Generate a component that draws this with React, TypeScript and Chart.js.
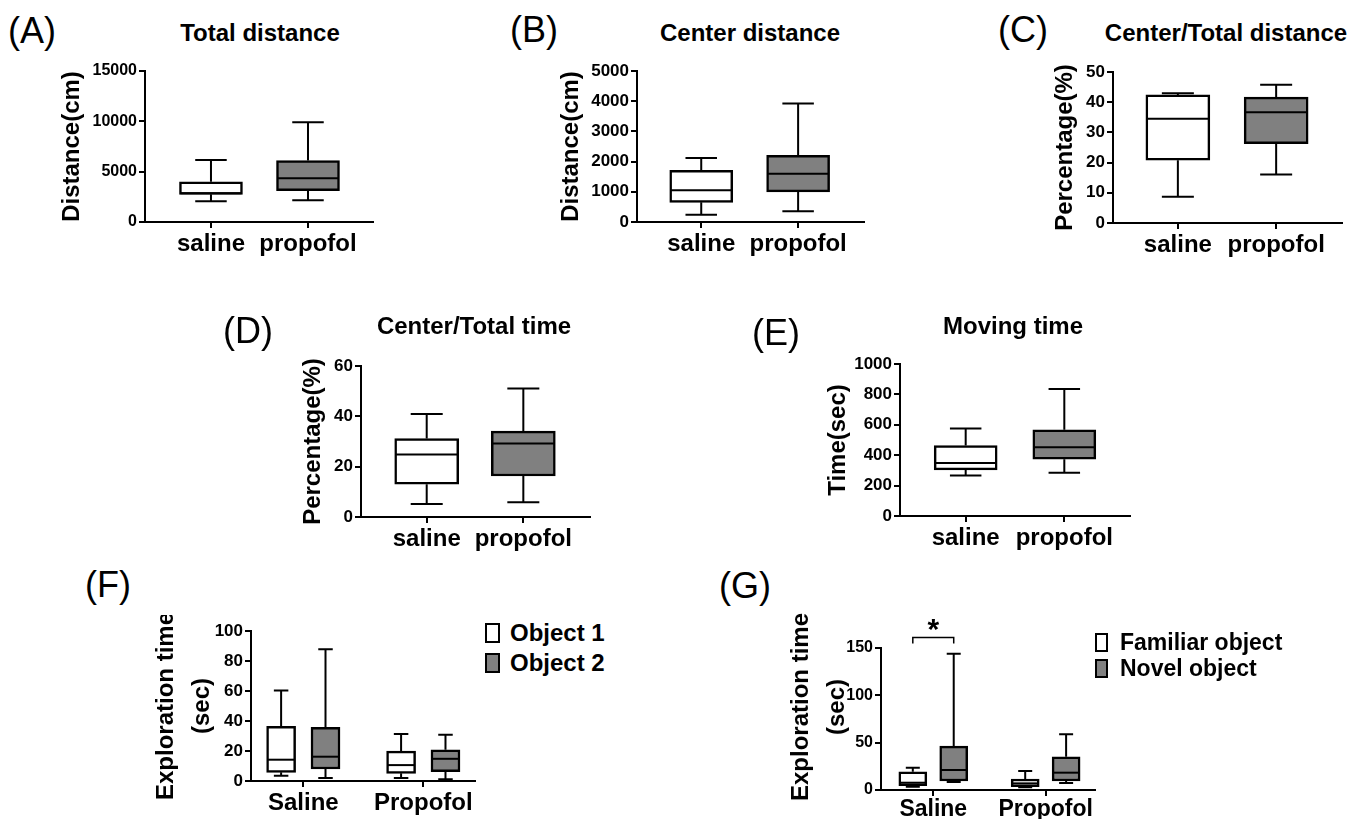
import React, { useEffect, useRef } from 'react';
import { Chart, registerables } from 'chart.js';

Chart.register(...registerables);

const FONT = '"Liberation Sans", Arial, Helvetica, sans-serif';
const WHITE = '#ffffff';
const GREY = '#808080';

// ---------- DATA ----------
const groups = ['saline', 'propofol'];
const groupsCap = ['Saline', 'Propofol'];

// (A) Total distance (cm)
const totalMin = [2050, 2150];
const totalQ1 = [2750, 3100];
const totalMed = [2850, 4350];
const totalQ3 = [4000, 6100];
const totalMax = [6150, 9900];

// (B) Center distance (cm)
const centerMin = [240, 360];
const centerQ1 = [650, 1000];
const centerMed = [1050, 1600];
const centerQ3 = [1710, 2210];
const centerMax = [2120, 3920];

// (C) Center/Total distance (%)
const ratioDistMin = [8.7, 16.1];
const ratioDistQ1 = [20.8, 26.3];
const ratioDistMed = [34.5, 36.7];
const ratioDistQ3 = [42.4, 41.7];
const ratioDistMax = [43.0, 45.8];

// (D) Center/Total time (%)
const ratioTimeMin = [5.2, 5.9];
const ratioTimeQ1 = [13.0, 16.3];
const ratioTimeMed = [24.8, 29.2];
const ratioTimeQ3 = [31.2, 34.1];
const ratioTimeMax = [40.9, 51.1];

// (E) Moving time (sec)
const movingMin = [266, 285];
const movingQ1 = [303, 374];
const movingMed = [348, 452];
const movingQ3 = [463, 567];
const movingMax = [575, 835];

// (F) Exploration time, Object 1 / Object 2 (sec)
const obj1Min = [3.5, 2.0];
const obj1Q1 = [5.8, 5.1];
const obj1Med = [14.2, 10.6];
const obj1Q3 = [36.4, 19.9];
const obj1Max = [60.3, 31.3];
const obj2Min = [2.0, 1.1];
const obj2Q1 = [8.0, 6.2];
const obj2Med = [16.2, 14.8];
const obj2Q3 = [35.7, 20.8];
const obj2Max = [87.8, 30.8];

// (G) Exploration time, Familiar / Novel object (sec)
const famMin = [3.5, 2.8];
const famQ1 = [4.6, 3.5];
const famMed = [7.7, 7.0];
const famQ3 = [19.3, 11.6];
const famMax = [23.5, 20.0];
const novMin = [8.4, 7.4];
const novQ1 = [9.5, 9.5];
const novMed = [21.1, 18.3];
const novQ3 = [46.4, 35.1];
const novMax = [144, 59.0];

// significance marker in (G)
const sigCategory = 0;
const sigLevel = 161;
const sigLabel = '*';

// ---------- TYPES ----------
type Series = {
  label: string;
  fill: string | string[];
  offset: number;
  min: number[];
  q1: number[];
  med: number[];
  q3: number[];
  max: number[];
};

type Spec = {
  left: number; top: number; width: number; height: number;
  axisX: number; chartTop: number; chartRight: number; chartBottom: number;
  xMin: number; xMax: number;
  categories: string[];
  yMax: number; yStep: number;
  yTitle: string | string[] | null;
  titleCenter: number; titleLH: number;
  tickSize: number; labelSize: number; labelPad: number;
  barWidth: number;
  series: Series[];
  sig?: boolean;
};

function single(min: number[], q1: number[], med: number[], q3: number[], max: number[]): Series[] {
  return [{ label: 'box', fill: [WHITE, GREY], offset: 0, min, q1, med, q3, max }];
}

const specs: Spec[] = [
  {
    left: 40, top: 55, width: 345, height: 215,
    axisX: 145, chartTop: 71, chartRight: 373, chartBottom: 222,
    xMin: -0.68, xMax: 1.67, categories: groups,
    yMax: 15000, yStep: 5000, yTitle: 'Distance(cm)', titleCenter: 72, titleLH: 1.2,
    tickSize: 16, labelSize: 24, labelPad: 2, barWidth: 63,
    series: single(totalMin, totalQ1, totalMed, totalQ3, totalMax),
  },
  {
    left: 530, top: 55, width: 350, height: 215,
    axisX: 637, chartTop: 71, chartRight: 864, chartBottom: 222,
    xMin: -0.663, xMax: 1.68, categories: groups,
    yMax: 5000, yStep: 1000, yTitle: 'Distance(cm)', titleCenter: 571.7, titleLH: 1.2,
    tickSize: 17, labelSize: 24, labelPad: 2, barWidth: 63,
    series: single(centerMin, centerQ1, centerMed, centerQ3, centerMax),
  },
  {
    left: 1020, top: 55, width: 335, height: 215,
    axisX: 1113, chartTop: 72, chartRight: 1342, chartBottom: 223,
    xMin: -0.66, xMax: 1.67, categories: groups,
    yMax: 50, yStep: 10, yTitle: 'Percentage(%)', titleCenter: 1065, titleLH: 1.2,
    tickSize: 17, labelSize: 24, labelPad: 2, barWidth: 64,
    series: single(ratioDistMin, ratioDistQ1, ratioDistMed, ratioDistQ3, ratioDistMax),
  },
  {
    left: 270, top: 350, width: 335, height: 215,
    axisX: 361, chartTop: 366, chartRight: 590, chartBottom: 517,
    xMin: -0.68, xMax: 1.69, categories: groups,
    yMax: 60, yStep: 20, yTitle: 'Percentage(%)', titleCenter: 313.3, titleLH: 1.2,
    tickSize: 17, labelSize: 24, labelPad: 2, barWidth: 64,
    series: single(ratioTimeMin, ratioTimeQ1, ratioTimeMed, ratioTimeQ3, ratioTimeMax),
  },
  {
    left: 790, top: 350, width: 355, height: 215,
    axisX: 900, chartTop: 364, chartRight: 1130, chartBottom: 516,
    xMin: -0.666, xMax: 1.666, categories: groups,
    yMax: 1000, yStep: 200, yTitle: 'Time(sec)', titleCenter: 838.3, titleLH: 1.2,
    tickSize: 17, labelSize: 24, labelPad: 2, barWidth: 63,
    series: single(movingMin, movingQ1, movingMed, movingQ3, movingMax),
  },
  {
    left: 140, top: 615, width: 340, height: 204,
    axisX: 251, chartTop: 631, chartRight: 475, chartBottom: 781,
    xMin: -0.436, xMax: 1.431, categories: groupsCap,
    yMax: 100, yStep: 20, yTitle: ['Exploration time', '(sec)'], titleCenter: 166.7, titleLH: 1.5,
    tickSize: 17, labelSize: 24, labelPad: 2, barWidth: 29,
    series: [
      { label: 'Object 1', fill: WHITE, offset: -0.185, min: obj1Min, q1: obj1Q1, med: obj1Med, q3: obj1Q3, max: obj1Max },
      { label: 'Object 2', fill: GREY, offset: 0.185, min: obj2Min, q1: obj2Q1, med: obj2Med, q3: obj2Q3, max: obj2Max },
    ],
  },
  {
    left: 780, top: 600, width: 320, height: 219,
    axisX: 881, chartTop: 648, chartRight: 1095, chartBottom: 790,
    xMin: -0.465, xMax: 1.439, categories: groupsCap,
    yMax: 150, yStep: 50, yTitle: null, titleCenter: 805, titleLH: 1.5,
    tickSize: 16, labelSize: 23, labelPad: 0, barWidth: 28,
    series: [
      { label: 'Familiar object', fill: WHITE, offset: -0.182, min: famMin, q1: famQ1, med: famMed, q3: famQ3, max: famMax },
      { label: 'Novel object', fill: GREY, offset: 0.182, min: novMin, q1: novQ1, med: novMed, q3: novQ3, max: novMax },
    ],
    sig: true,
  },
];

// ---------- CHART BUILDING ----------
function whiskerPlugin(spec: Spec) {
  return {
    id: 'whiskers',
    beforeDatasetsDraw(chart: any) {
      const y = chart.scales.y;
      const ctx = chart.ctx;
      ctx.save();
      ctx.strokeStyle = '#000';
      ctx.lineWidth = 2;
      spec.series.forEach((s, di) => {
        const meta = chart.getDatasetMeta(di);
        meta.data.forEach((bar: any, i: number) => {
          const { x, width } = bar.getProps(['x', 'width'], true);
          const cap = width / 4;
          const pMax = y.getPixelForValue(s.max[i]);
          const pQ3 = y.getPixelForValue(s.q3[i]);
          const pQ1 = y.getPixelForValue(s.q1[i]);
          const pMin = y.getPixelForValue(s.min[i]);
          ctx.beginPath();
          ctx.moveTo(x, pQ3); ctx.lineTo(x, pMax);
          ctx.moveTo(x - cap, pMax); ctx.lineTo(x + cap, pMax);
          ctx.moveTo(x, pQ1); ctx.lineTo(x, pMin);
          ctx.moveTo(x - cap, pMin); ctx.lineTo(x + cap, pMin);
          ctx.stroke();
        });
      });
      ctx.restore();
    },
    afterDatasetsDraw(chart: any) {
      const y = chart.scales.y;
      const xs = chart.scales.x;
      const ctx = chart.ctx;
      ctx.save();
      ctx.strokeStyle = '#000';
      ctx.lineWidth = 2;
      spec.series.forEach((s, di) => {
        const meta = chart.getDatasetMeta(di);
        meta.data.forEach((bar: any, i: number) => {
          const { x, width } = bar.getProps(['x', 'width'], true);
          const pMed = y.getPixelForValue(s.med[i]);
          ctx.beginPath();
          ctx.moveTo(x - width / 2 + 1, pMed);
          ctx.lineTo(x + width / 2 - 1, pMed);
          ctx.stroke();
        });
      });
      if (spec.sig) {
        const x1 = xs.getPixelForValue(sigCategory + spec.series[0].offset);
        const x2 = xs.getPixelForValue(sigCategory + spec.series[1].offset);
        const py = y.getPixelForValue(sigLevel);
        ctx.lineWidth = 1.5;
        ctx.beginPath();
        ctx.moveTo(x1, py + 6); ctx.lineTo(x1, py); ctx.lineTo(x2, py); ctx.lineTo(x2, py + 6);
        ctx.stroke();
        ctx.fillStyle = '#000';
        ctx.font = `bold 30px ${FONT}`;
        ctx.textAlign = 'center';
        ctx.textBaseline = 'alphabetic';
        ctx.fillText(sigLabel, (x1 + x2) / 2, py + 1);
      }
      ctx.restore();
    },
  };
}

function buildConfig(spec: Spec): any {
  const padTop = spec.chartTop - spec.top;
  const padRight = spec.left + spec.width - spec.chartRight;
  const yWidth = spec.axisX - spec.left;
  const xHeight = spec.top + spec.height - spec.chartBottom;
  const titleLinePx = 24 * spec.titleLH;
  const titlePad = spec.titleCenter - spec.left - titleLinePx / 2;
  const axisGrid = {
    display: true, drawOnChartArea: false, drawTicks: true, tickLength: 6,
    color: '#000', lineWidth: 2, offset: false,
  };
  return {
    type: 'bar',
    data: {
      datasets: spec.series.map((s) => ({
        label: s.label,
        data: spec.categories.map((_, i) => ({ x: i + s.offset, y: [s.q1[i], s.q3[i]] })),
        backgroundColor: s.fill,
        borderColor: '#000',
        borderWidth: 2.5,
        borderSkipped: false,
        barThickness: spec.barWidth,
        grouped: false,
      })),
    },
    options: {
      animation: false,
      responsive: false,
      maintainAspectRatio: false,
      events: [],
      layout: { padding: { top: padTop, right: padRight, left: 0, bottom: 0 } },
      plugins: { legend: { display: false }, tooltip: { enabled: false }, title: { display: false } },
      scales: {
        x: {
          type: 'linear',
          min: spec.xMin,
          max: spec.xMax,
          offset: false,
          afterBuildTicks: (sc: any) => { sc.ticks = spec.categories.map((_, i) => ({ value: i })); },
          afterFit: (sc: any) => { sc.height = xHeight; sc.paddingLeft = 0; sc.paddingRight = 0; },
          ticks: {
            callback: (v: number) => spec.categories[Math.round(v)] ?? '',
            font: { size: spec.labelSize, weight: 'bold', family: FONT },
            color: '#000', padding: spec.labelPad, autoSkip: false, maxRotation: 0, minRotation: 0,
          },
          grid: axisGrid,
          border: { display: true, color: '#000', width: 2 },
        },
        y: {
          type: 'linear',
          min: 0,
          max: spec.yMax,
          afterFit: (sc: any) => { sc.width = yWidth; },
          ticks: {
            stepSize: spec.yStep,
            callback: (v: number) => String(v),
            font: { size: spec.tickSize, weight: 'bold', family: FONT },
            color: '#000', padding: 2,
          },
          title: {
            display: spec.yTitle !== null,
            text: spec.yTitle ?? '',
            color: '#000',
            font: { size: 24, weight: 'bold', family: FONT, lineHeight: spec.titleLH },
            padding: { top: titlePad, bottom: 0 },
          },
          grid: axisGrid,
          border: { display: true, color: '#000', width: 2 },
        },
      },
    },
    plugins: [whiskerPlugin(spec)],
  };
}

function BoxPanel({ spec }: { spec: Spec }) {
  const ref = useRef<HTMLCanvasElement>(null);
  useEffect(() => {
    if (!ref.current) return;
    const chart = new Chart(ref.current, buildConfig(spec));
    return () => chart.destroy();
  }, [spec]);
  return (
    <canvas
      ref={ref}
      width={spec.width}
      height={spec.height}
      style={{ position: 'absolute', left: spec.left, top: spec.top, width: spec.width, height: spec.height }}
    />
  );
}

// ---------- HTML TEXT ----------
function Txt({ x, y, size, bold, center, children }: any) {
  return (
    <div
      style={{
        position: 'absolute', left: x, top: y,
        transform: center ? 'translate(-50%, -50%)' : 'translate(0, -50%)',
        fontFamily: FONT, fontSize: size, fontWeight: bold ? 'bold' : 'normal',
        lineHeight: 1, whiteSpace: 'nowrap', color: '#000',
      }}
    >
      {children}
    </div>
  );
}

function LegendItem({ x, y, w, h, fill, textX, textY, size, label }: any) {
  return (
    <>
      <div style={{ position: 'absolute', left: x, top: y, width: w, height: h, boxSizing: 'border-box', border: '2px solid #000', background: fill }} />
      <Txt x={textX} y={textY} size={size} bold>{label}</Txt>
    </>
  );
}

const letters = [
  { t: '(A)', x: 8, y: 31 },
  { t: '(B)', x: 510, y: 30 },
  { t: '(C)', x: 998, y: 30 },
  { t: '(D)', x: 223, y: 331 },
  { t: '(E)', x: 752, y: 333 },
  { t: '(F)', x: 85, y: 585 },
  { t: '(G)', x: 719, y: 586 },
];

const titles = [
  { t: 'Total distance', x: 260, y: 33 },
  { t: 'Center distance', x: 750, y: 33 },
  { t: 'Center/Total distance', x: 1226, y: 33 },
  { t: 'Center/Total time', x: 474, y: 326 },
  { t: 'Moving time', x: 1013, y: 326 },
];

const gYTitle = ['Exploration time', '(sec)'];

export default function App() {
  return (
    <div style={{ position: 'absolute', left: 0, top: 0, width: 1364, height: 819, overflow: 'hidden', background: '#fff' }}>
      {specs.map((s, i) => <BoxPanel key={i} spec={s} />)}
      {letters.map((l) => <Txt key={l.t} x={l.x} y={l.y} size={36}>{l.t}</Txt>)}
      {titles.map((t) => <Txt key={t.t} x={t.x} y={t.y} size={24} bold center>{t.t}</Txt>)}
      <div
        style={{
          position: 'absolute', left: 818, top: 707,
          transform: 'translate(-50%, -50%) rotate(-90deg)',
          fontFamily: FONT, fontSize: 24, fontWeight: 'bold', lineHeight: '36px',
          textAlign: 'center', whiteSpace: 'nowrap', color: '#000',
        }}
      >
        {gYTitle[0]}<br />{gYTitle[1]}
      </div>
      <LegendItem x={485} y={623} w={15} h={20} fill={WHITE} textX={510} textY={633} size={24} label={specs[5].series[0].label} />
      <LegendItem x={485} y={653} w={15} h={20} fill={GREY} textX={510} textY={663} size={24} label={specs[5].series[1].label} />
      <LegendItem x={1095} y={633} w={13} h={19} fill={WHITE} textX={1120} textY={642} size={23} label={specs[6].series[0].label} />
      <LegendItem x={1095} y={659} w={13} h={19} fill={GREY} textX={1120} textY={668} size={23} label={specs[6].series[1].label} />
    </div>
  );
}
